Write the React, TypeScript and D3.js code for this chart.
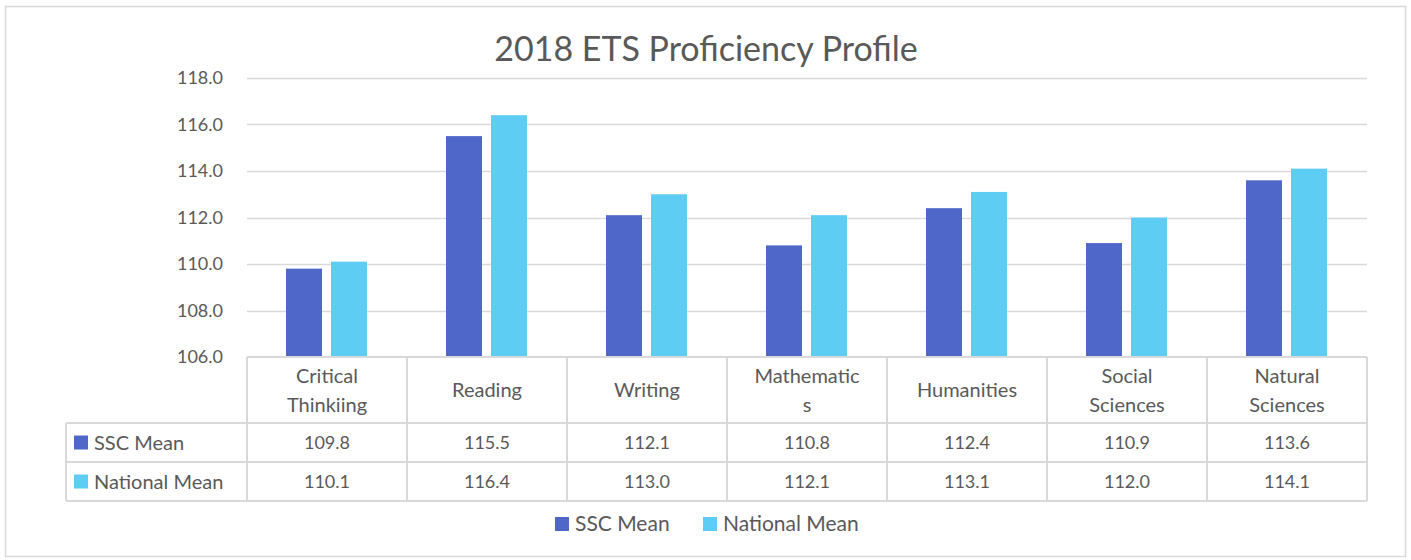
import React, { useEffect, useRef } from 'react';
import * as d3 from 'd3';

const categories = ['Critical\nThinkiing', 'Reading', 'Writing', 'Mathematic\ns', 'Humanities', 'Social\nSciences', 'Natural\nSciences'];
const seriesNames = ['SSC Mean', 'National Mean'];
const sscMean = [109.8, 115.5, 112.1, 110.8, 112.4, 110.9, 113.6];
const nationalMean = [110.1, 116.4, 113.0, 112.1, 113.1, 112.0, 114.1];
const yTicks = [106, 108, 110, 112, 114, 116, 118];

const colors = ['#4f67c8', '#5ecdf4'];
const textColor = '#595959';
const gridColor = '#d9d9d9';
const font = 'Lato, "Open Sans", sans-serif';

const width = 1411;
const height = 560;
const plot = { left: 247, right: 1367, top: 78, bottom: 357 };
const rows = [357, 423, 462, 501];
const tableLeft = 66;

const App = () => {
  const ref = useRef<SVGSVGElement>(null);

  useEffect(() => {
    const svg = d3.select(ref.current);
    svg.selectAll('*').remove();

    const x = d3.scaleBand<number>().domain(d3.range(categories.length)).range([plot.left, plot.right]);
    const xi = d3.scaleBand<number>().domain([0, 1]).range([0, 81]).paddingInner(0.2);
    const y = d3.scaleLinear().domain([106, 118]).range([plot.bottom, plot.top]);

    svg.append('rect').attr('x', 5.5).attr('y', 6.5).attr('width', 1400).attr('height', 550)
      .attr('fill', '#fff').attr('stroke', gridColor).attr('stroke-width', 1.5);

    svg.append('text').attr('x', 706).attr('y', 61).attr('text-anchor', 'middle')
      .attr('font-family', font).attr('font-size', 34).attr('fill', textColor)
      .text('2018 ETS Proficiency Profile');

    // grid + y labels
    svg.selectAll('line.grid').data(yTicks.slice(1)).enter().append('line')
      .attr('x1', plot.left).attr('x2', plot.right)
      .attr('y1', d => Math.round(y(d)) + 0.5).attr('y2', d => Math.round(y(d)) + 0.5)
      .attr('stroke', gridColor).attr('stroke-width', 1.5);
    svg.selectAll('text.ytick').data(yTicks).enter().append('text')
      .attr('x', 223).attr('y', d => y(d) + 6).attr('text-anchor', 'end')
      .attr('font-family', font).attr('font-size', 18).attr('fill', textColor)
      .text(d => d.toFixed(1));

    // bars
    const series = [sscMean, nationalMean];
    series.forEach((vals, s) => {
      svg.append('g').selectAll('rect').data(vals).enter().append('rect')
        .attr('x', (d, i) => (x(i) as number) + 39 + (xi(s) as number))
        .attr('width', xi.bandwidth())
        .attr('y', d => y(d))
        .attr('height', d => y(106) - y(d))
        .attr('fill', colors[s]);
    });

    // table lines
    const g = svg.append('g').attr('stroke', gridColor).attr('stroke-width', 2);
    rows.forEach((r, i) => {
      g.append('line').attr('x1', i === 0 ? plot.left : tableLeft).attr('x2', plot.right)
        .attr('y1', r).attr('y2', r);
    });
    g.append('line').attr('x1', tableLeft).attr('x2', tableLeft).attr('y1', rows[1]).attr('y2', rows[3]);
    d3.range(categories.length + 1).forEach(i => {
      const xx = plot.left + i * x.bandwidth();
      g.append('line').attr('x1', xx).attr('x2', xx).attr('y1', rows[0]).attr('y2', rows[3]);
    });

    // header labels
    categories.forEach((c, i) => {
      const lines = c.split('\n');
      const cx = (x(i) as number) + x.bandwidth() / 2;
      const cy = (rows[0] + rows[1]) / 2;
      lines.forEach((l, k) => {
        svg.append('text').attr('x', cx)
          .attr('y', cy + 7 + (k - (lines.length - 1) / 2) * 29)
          .attr('text-anchor', 'middle').attr('font-family', font).attr('font-size', 20)
          .attr('fill', textColor).text(l);
      });
    });

    // data rows
    series.forEach((vals, s) => {
      const cy = (rows[s + 1] + rows[s + 2]) / 2;
      svg.append('rect').attr('x', 74).attr('y', cy - 7).attr('width', 14).attr('height', 14).attr('fill', colors[s]);
      svg.append('text').attr('x', 94).attr('y', cy + 7).attr('font-family', font).attr('font-size', 20)
        .attr('fill', textColor).text(seriesNames[s]);
      svg.append('g').selectAll('text').data(vals).enter().append('text')
        .attr('x', (d, i) => (x(i) as number) + x.bandwidth() / 2)
        .attr('y', cy + 6).attr('text-anchor', 'middle').attr('font-family', font).attr('font-size', 18)
        .attr('fill', textColor).text(d => d.toFixed(1));
    });

    // legend
    const legendX = [555, 703];
    seriesNames.forEach((n, s) => {
      svg.append('rect').attr('x', legendX[s]).attr('y', 517).attr('width', 14).attr('height', 14).attr('fill', colors[s]);
      svg.append('text').attr('x', legendX[s] + 20).attr('y', 531).attr('font-family', font).attr('font-size', 21)
        .attr('fill', textColor).text(n);
    });
  }, []);

  return <svg ref={ref} width={width} height={height} style={{ display: 'block', position: 'absolute', left: 0, top: 0 }} />;
};

export default App;
